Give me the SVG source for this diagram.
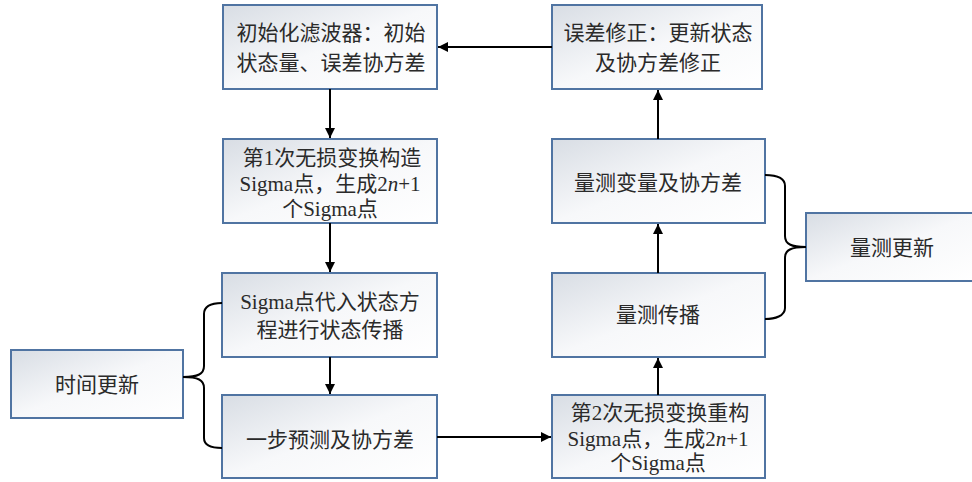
<svg xmlns="http://www.w3.org/2000/svg" width="972" height="482" viewBox="0 0 972 482">
<defs>
<linearGradient id="g" x1="0" y1="0" x2="1" y2="1">
<stop offset="0" stop-color="#d8dde4"/>
<stop offset="0.5" stop-color="#f7f8fa"/>
<stop offset="1" stop-color="#ffffff"/>
</linearGradient>
<marker id="ah" viewBox="0 0 10 10" refX="10" refY="5" markerWidth="10" markerHeight="10" markerUnits="userSpaceOnUse" orient="auto">
<path d="M0,0 L10,5 L0,10 Z" fill="#000"/>
</marker>
<style>
.box{fill:url(#g);stroke:#5074a2;stroke-width:2}
.t{font-family:"Liberation Serif","Noto Sans CJK SC",serif;font-size:21px;fill:#2a2a2a;text-anchor:middle;dominant-baseline:central}
.c{stroke:#000;stroke-width:2;fill:none}
.a{marker-end:url(#ah)}
</style>
</defs>
<rect width="972" height="482" fill="#fff"/>
<g id="init"><rect class="box" x="223" y="5" width="214" height="84"/>
<text class="t" x="331" y="33">初始化滤波器：初始</text><text class="t" x="331" y="63">状态量、误差协方差</text></g>
<g id="sigma1"><rect class="box" x="223" y="139" width="214" height="84"/>
<text class="t" x="332" y="158">第1次无损变换构造</text><text class="t" x="330" y="184">Sigma点，生成2<tspan font-style="italic">n</tspan>+1</text><text class="t" x="330" y="209">个Sigma点</text></g>
<g id="prop"><rect class="box" x="222" y="273" width="215" height="84"/>
<text class="t" x="330" y="302">Sigma点代入状态方</text><text class="t" x="330" y="330">程进行状态传播</text></g>
<g id="pred"><rect class="box" x="222" y="395" width="215" height="83"/>
<text class="t" x="330" y="440">一步预测及协方差</text></g>
<g id="timeupd"><rect class="box" x="11" y="350" width="172" height="68"/>
<text class="t" x="97" y="385">时间更新</text></g>
<g id="correct"><rect class="box" x="552" y="5" width="210" height="84"/>
<text class="t" x="658" y="33">误差修正：更新状态</text><text class="t" x="658" y="63">及协方差修正</text></g>
<g id="meascov"><rect class="box" x="552" y="139" width="213" height="84"/>
<text class="t" x="658" y="183">量测变量及协方差</text></g>
<g id="measprop"><rect class="box" x="552" y="273" width="213" height="84"/>
<text class="t" x="658" y="315">量测传播</text></g>
<g id="sigma2"><rect class="box" x="552" y="395" width="213" height="83"/>
<text class="t" x="660" y="413">第2次无损变换重构</text><text class="t" x="658" y="439">Sigma点，生成2<tspan font-style="italic">n</tspan>+1</text><text class="t" x="658" y="463">个Sigma点</text></g>
<g id="measupd"><rect class="box" x="806" y="213" width="172" height="68"/>
<text class="t" x="892" y="248">量测更新</text></g>
<g id="connectors">
<line class="c a" x1="330" y1="89" x2="330" y2="138"/>
<line class="c a" x1="330" y1="223" x2="330" y2="272"/>
<line class="c a" x1="330" y1="357" x2="330" y2="394"/>
<line class="c a" x1="437" y1="437" x2="551" y2="437"/>
<line class="c a" x1="658" y1="395" x2="658" y2="358"/>
<line class="c a" x1="658" y1="273" x2="658" y2="224"/>
<line class="c a" x1="658" y1="139" x2="658" y2="90"/>
<line class="c a" x1="552" y1="47" x2="438" y2="47"/>
<path class="c" d="M222,303 C212,303 204,305 204,314 L204,366 C204,374 198,377 183,377 C198,377 204,380 204,388 L204,438 C204,446 212,448 222,448"/>
<path class="c" d="M765,175 C775,175 785,177 785,186 L785,236 C785,244 791,247 806,247 C791,247 785,250 785,258 L785,308 C785,316 775,319 765,319"/>
</g>
</svg>
